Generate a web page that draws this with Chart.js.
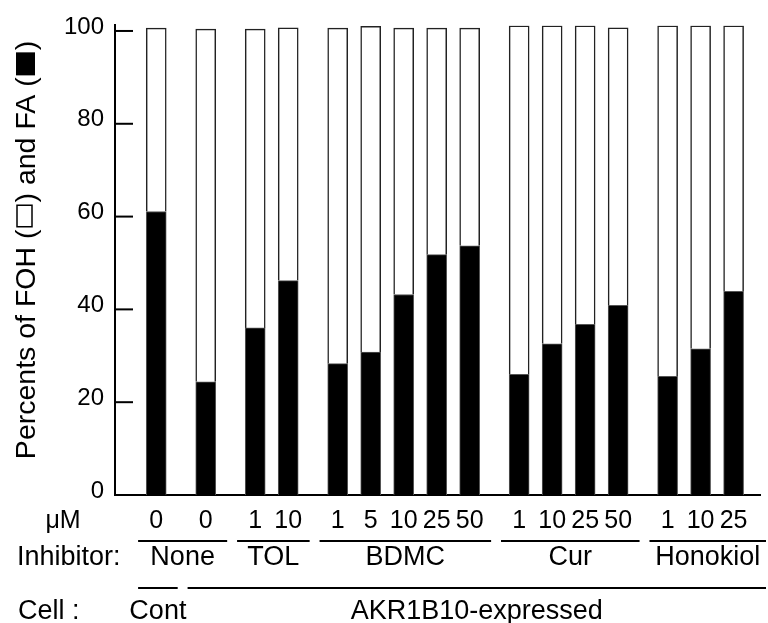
<!DOCTYPE html>
<html>
<head>
<meta charset="utf-8">
<script src="https://cdn.jsdelivr.net/npm/chart.js@4.4.1/dist/chart.umd.min.js"></script>
<style>
  html, body { margin: 0; padding: 0; background: #fff; }
  #wrap { width: 768px; height: 623px; position: relative; }
</style>
</head>
<body>
<div id="wrap"><canvas id="mainChart"></canvas></div>
<script>
// bar data, left to right
const CONC  = ['0', '0', '1', '10', '1', '5', '10', '25', '50', '1', '10', '25', '50', '1', '10', '25'];
const FA    = [61.1, 24.4, 36.0, 46.2, 28.3, 30.8, 43.2, 51.8, 53.7, 26.0, 32.6, 36.8, 40.9, 25.6, 31.5, 43.9];
const FOH   = [39.5, 76.0, 64.4, 54.5, 72.3, 70.2, 57.4, 48.8, 46.9, 75.1, 68.5, 64.3, 59.8, 75.5, 69.6, 57.2];

const INHIBITORS  = ['None', 'TOL', 'BDMC', 'Cur', 'Honokiol'];
const INHIB_SIZES = [2, 2, 5, 4, 3];
const CELLS       = ['Cont', 'AKR1B10-expressed'];
const CELL_SIZES  = [1, 15];

const Y_TICKS = [0, 20, 40, 60, 80, 100];
// title pieces; the two boxes are drawn between them
const Y_TITLE = ['Percents of FOH (', ') and FA (', ')'];

const FONT = "'Liberation Sans', Arial, sans-serif";
const GROUP_GAP = 1.5;   // spacing between groups, in bar steps
const PAD_L = 0.55, PAD_R = 0.65;

// group index of each bar
function groupIndex(sizes) {
  const out = [];
  sizes.forEach((n, g) => { for (let i = 0; i < n; i++) out.push(g); });
  return out;
}
const inhibOf = groupIndex(INHIB_SIZES);
const cellOf  = groupIndex(CELL_SIZES);

// x positions: step 1 inside a group, wider step across groups
const xPos = [];
CONC.forEach((c, i) => {
  if (i === 0) { xPos.push(0); return; }
  const newGroup = inhibOf[i] !== inhibOf[i - 1] || cellOf[i] !== cellOf[i - 1];
  xPos.push(xPos[i - 1] + (newGroup ? GROUP_GAP : 1));
});

function groupSpans(sizes) {
  const spans = [];
  let start = 0;
  sizes.forEach(n => { spans.push([xPos[start], xPos[start + n - 1]]); start += n; });
  return spans;
}

function drawYTitle(ctx) {
  ctx.save();
  ctx.translate(35, 250);
  ctx.rotate(-Math.PI / 2);
  ctx.font = '28.5px ' + FONT;
  ctx.textAlign = 'left';
  ctx.textBaseline = 'alphabetic';
  const boxW = 23, gap = 2;
  const total = Y_TITLE.reduce((s, t) => s + ctx.measureText(t).width, 0) + 2 * (boxW + 2 * gap);
  let u = -total / 2;
  Y_TITLE.forEach((t, i) => {
    ctx.fillText(t, u, 0);
    u += ctx.measureText(t).width;
    if (i === 0) {
      u += gap;
      ctx.lineWidth = 1.5;
      ctx.strokeRect(u + 0.75, -18, boxW - 1.5, 15);
      u += boxW + gap;
    } else if (i === 1) {
      u += gap;
      ctx.fillRect(u, -19, boxW, 19);
      u += boxW + gap;
    }
  });
  ctx.restore();
}

const bottomLabels = {
  id: 'bottomLabels',
  afterDraw(chart) {
    const ctx = chart.ctx;
    const xs = chart.scales.x;
    const ys = chart.scales.y;
    const area = chart.chartArea;
    ctx.save();
    ctx.fillStyle = '#000';
    ctx.strokeStyle = '#000';

    // inward tick marks on y axis
    ctx.lineWidth = 2;
    Y_TICKS.forEach(v => {
      const y = ys.getPixelForValue(v);
      ctx.beginPath();
      ctx.moveTo(area.left, y);
      ctx.lineTo(area.left + 18, y);
      ctx.stroke();
    });

    ctx.textBaseline = 'middle';
    ctx.font = '25px ' + FONT;

    // concentration row
    ctx.textAlign = 'center';
    ctx.fillText('\u03BCM', 63, 521);
    CONC.forEach((c, i) => ctx.fillText(c, xs.getPixelForValue(xPos[i]), 521));

    ctx.font = '27px ' + FONT;
    ctx.textAlign = 'left';
    ctx.fillText('Inhibitor:', 17, 558);
    ctx.fillText('Cell :', 18, 612);

    ctx.lineWidth = 2;
    ctx.textAlign = 'center';
    const drawGroups = (names, sizes, lineY, textY) => {
      const spans = groupSpans(sizes);
      spans.forEach((s, g) => {
        const x0 = xs.getPixelForValue(s[0] - PAD_L);
        // the last group runs on to the right edge
        const x1 = g === spans.length - 1 ? chart.width - 2 : xs.getPixelForValue(s[1] + PAD_R);
        ctx.beginPath();
        ctx.moveTo(x0, lineY);
        ctx.lineTo(x1, lineY);
        ctx.stroke();
        ctx.fillText(names[g], (x0 + x1) / 2, textY);
      });
    };
    drawGroups(INHIBITORS, INHIB_SIZES, 541, 558);
    drawGroups(CELLS, CELL_SIZES, 588, 612);

    drawYTitle(ctx);
    ctx.restore();
  }
};

new Chart(document.getElementById('mainChart'), {
  type: 'bar',
  data: {
    datasets: [
      {
        label: 'FA',
        data: FA.map((v, i) => ({ x: xPos[i], y: v })),
        backgroundColor: '#000',
        borderColor: '#555',
        borderWidth: 1,
        barThickness: 20,
      },
      {
        label: 'FOH',
        data: FOH.map((v, i) => ({ x: xPos[i], y: v })),
        backgroundColor: '#fff',
        borderColor: '#222',
        borderWidth: 1.5,
        barThickness: 20,
      }
    ]
  },
  options: {
    responsive: true,
    maintainAspectRatio: false,
    animation: false,
    layout: { padding: { top: 23, right: 8, bottom: 128, left: 0 } },
    plugins: {
      legend: { display: false },
      tooltip: { enabled: false },
    },
    scales: {
      x: {
        type: 'linear',
        stacked: true,
        offset: false,
        min: -1.25,
        max: 18.3,
        grid: { display: false, drawTicks: false, offset: false },
        border: { display: true, color: '#000', width: 2 },
        ticks: { display: false },
      },
      y: {
        stacked: true,
        min: 0,
        max: 101.2,
        afterBuildTicks: s => { s.ticks = Y_TICKS.map(v => ({ value: v })); },
        afterFit: s => { s.width = 115; },
        grid: { display: false, drawTicks: false },
        border: { display: true, color: '#000', width: 2 },
        ticks: {
          color: '#000',
          padding: 11,
          labelOffset: -4,
          font: { family: FONT, size: 24 },
        },
      }
    }
  },
  plugins: [bottomLabels]
});
</script>
</body>
</html>
